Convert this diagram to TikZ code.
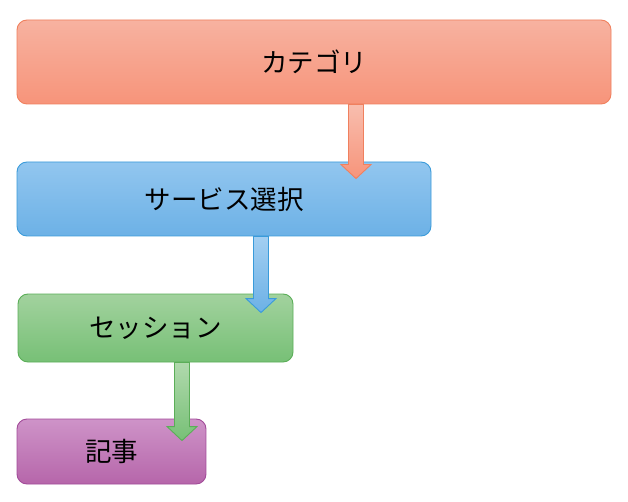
\documentclass[tikz,border=0pt]{standalone}
\usepackage{fontspec}
\newfontfamily\cjk{Noto Sans CJK JP}
\usetikzlibrary{calc}
\definecolor{redtop}{HTML}{F7B2A0}
\definecolor{redbot}{HTML}{F7947A}
\definecolor{redline}{HTML}{F0805E}
\definecolor{bluetop}{HTML}{92C6EF}
\definecolor{bluebot}{HTML}{6CB1E6}
\definecolor{blueline}{HTML}{3A9BDA}
\definecolor{greentop}{HTML}{A2D29E}
\definecolor{greenbot}{HTML}{77C076}
\definecolor{greenline}{HTML}{5BAE58}
\definecolor{purptop}{HTML}{CE93C8}
\definecolor{purpbot}{HTML}{B666AA}
\definecolor{purpline}{HTML}{A24B99}
\tikzset{
  box/.style={rounded corners=10pt, line width=0.9pt, inner sep=0pt,
    font=\cjk\fontsize{26.5}{30}\selectfont, text=black},
  redbox/.style={box, draw=redline, top color=redtop, bottom color=redbot},
  bluebox/.style={box, draw=blueline, top color=bluetop, bottom color=bluebot},
  greenbox/.style={box, draw=greenline, top color=greentop, bottom color=greenbot},
  purpbox/.style={box, draw=purpline, top color=purptop, bottom color=purpbot},
}
\newcommand{\blockarrow}[4]{%
  \path[draw=#3, line width=0.9pt, line join=miter, #4]
    ($(#1)+(-7.5,0)$) -- ($(#2)+(-7.5,-14)$) -- ($(#2)+(-15,-14)$) -- (#2)
    -- ($(#2)+(15,-14)$) -- ($(#2)+(7.5,-14)$) -- ($(#1)+(7.5,0)$) -- cycle;}
\begin{document}
\begin{tikzpicture}[x=1pt,y=-1pt]
\useasboundingbox[fill=white] (0,0) rectangle (628,502);
\node[redbox, minimum width=594pt, minimum height=84pt] (b1) at (314,62) {カテゴリ};
\node[bluebox, minimum width=414pt, minimum height=74pt] (b2) at (224,199) {サービス選択};
\node[greenbox, minimum width=275pt, minimum height=68pt] (b3) at (155.5,328) {セッション};
\node[purpbox, minimum width=189pt, minimum height=65pt] (b4) at (111.5,451.5) {記事};
\path (b1.south -| 356,0) coordinate (a1s);
\path ($(a1s |- b2.north)+(0,17)$) coordinate (a1t);
\path (b2.south -| 261,0) coordinate (a2s);
\path ($(a2s |- b3.north)+(0,19)$) coordinate (a2t);
\path (b3.south -| 182,0) coordinate (a3s);
\path ($(a3s |- b4.north)+(0,22)$) coordinate (a3t);
\blockarrow{a1s}{a1t}{redline}{top color=redtop!85!white, bottom color=redbot}
\blockarrow{a2s}{a2t}{blueline}{top color=bluetop!85!white, bottom color=bluebot}
\blockarrow{a3s}{a3t}{greenline}{top color=greentop!85!white, bottom color=greenbot}
\end{tikzpicture}
\end{document}
